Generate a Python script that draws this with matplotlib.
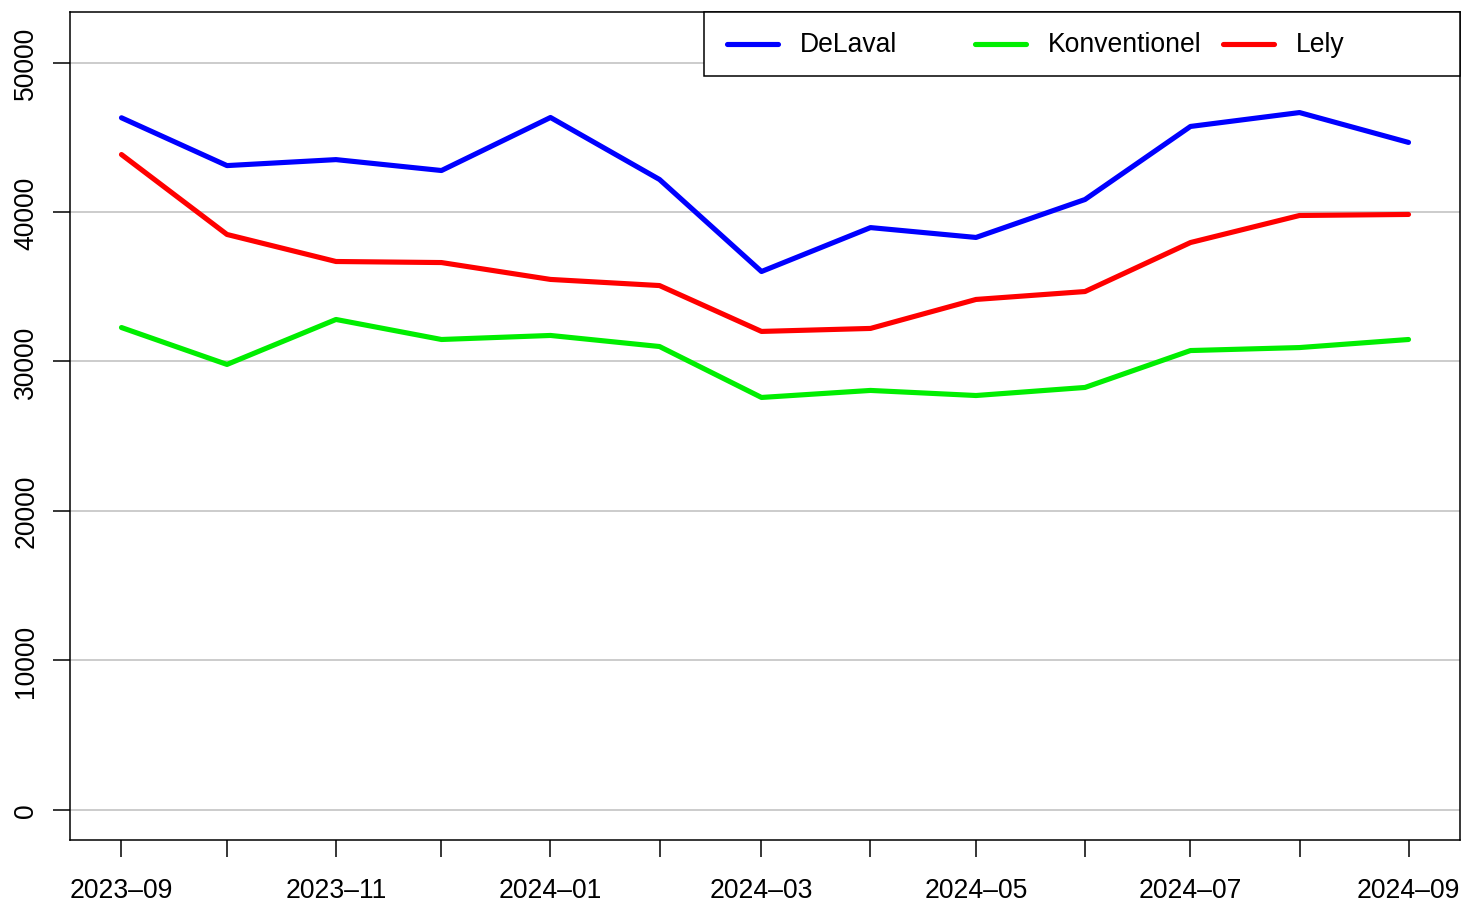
import numpy as np
import pandas as pd
import matplotlib
matplotlib.use("Agg")
import matplotlib.pyplot as plt
from matplotlib.patches import Rectangle
from matplotlib.lines import Line2D

plt.rcParams['font.family'] = ['Liberation Sans', 'DejaVu Sans']

months = pd.date_range("2023-09-01", "2024-09-01", freq="MS")
delaval = [46300, 43100, 43500, 42770, 46320, 42170, 36010, 38950, 38290, 40830, 45720, 46650, 44650]
konventionel = [32260, 29790, 32800, 31460, 31730, 30990, 27580, 28050, 27710, 28250, 30720, 30920, 31460]
lely = [43840, 38490, 36680, 36610, 35480, 35070, 32000, 32200, 34140, 34670, 37950, 39760, 39830]

series = [("DeLaval", delaval, "#0000ff"),
          ("Konventionel", konventionel, "#00ee00"),
          ("Lely", lely, "#ff0000")]

W, H = 1461, 903
fig = plt.figure(figsize=(W / 100, H / 100), dpi=100)
# plot box in pixels: x 70..1460, y 12..840
ax = fig.add_axes([70 / W, (H - 840.5) / H, 1390 / W, 828 / H])

def ax_x(px):
    return (px - 70) / 1390

def ax_y(py):
    return (840 - py) / 828

for y in range(0, 50001, 10000):
    ax.axhline(y, color="#bebebe", lw=1.1, zorder=0)

for name, vals, col in series:
    ax.plot(months, vals, color=col, lw=3.7, solid_capstyle="round", solid_joinstyle="round")

pad = pd.Timedelta(days=14.64)
ax.set_xlim(months[0] - pad, months[-1] + pad)
ax.set_ylim(-2008, 53414)

ax.set_xticks(months)
ax.set_xticklabels([m.strftime("%Y\u2013%m") if i % 2 == 0 else "" for i, m in enumerate(months)])
ax.set_yticks(range(0, 50001, 10000))
ax.set_yticklabels([str(v) for v in range(0, 50001, 10000)], rotation=90, va="center")
ax.tick_params(axis="both", direction="out", length=12.2, width=1.1, labelsize=19.1, colors="black")
ax.tick_params(axis="x", pad=14.5)
ax.tick_params(axis="y", pad=10)
for s in ax.spines.values():
    s.set_linewidth(1.1)

# legend drawn like R's horizontal legend box
ax.add_patch(Rectangle((ax_x(704), ax_y(76)), ax_x(1460) - ax_x(704), ax_y(12) - ax_y(76),
                       transform=ax.transAxes, facecolor="white", edgecolor="black",
                       lw=1.1, zorder=5, clip_on=False))
for i, (name, vals, col) in enumerate(series):
    x0 = 727 + 248 * i
    ax.add_line(Line2D([ax_x(x0), ax_x(x0 + 51)], [ax_y(44), ax_y(44)], transform=ax.transAxes,
                       color=col, lw=3.7, solid_capstyle="round", zorder=6))
    ax.text(ax_x(x0 + 73), ax_y(45), name, transform=ax.transAxes, fontsize=19.1,
            va="center", ha="left", zorder=6)

fig.savefig("out.png", dpi=100)
